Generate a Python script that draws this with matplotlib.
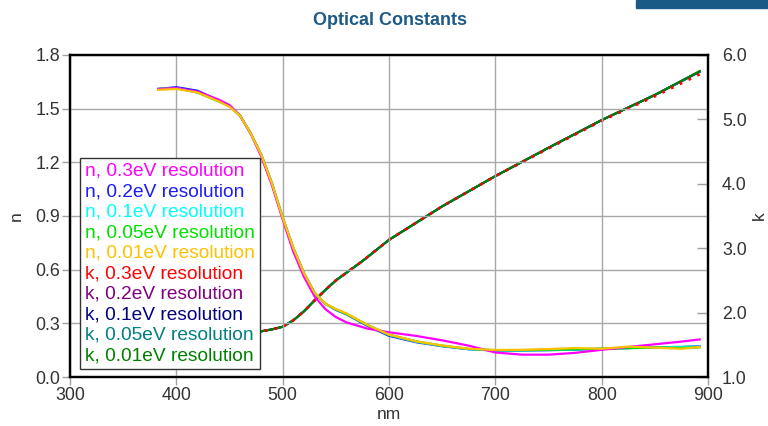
import matplotlib
matplotlib.use("Agg")
import matplotlib.pyplot as plt
from matplotlib.patches import Rectangle

plt.rcParams['font.family'] = ['Liberation Sans', 'DejaVu Sans']

# n curves (wavelength in nm)
wl_n = [383, 400, 420, 440, 450, 460, 470, 480, 490, 500, 510, 520, 530, 540, 550,
        560, 580, 600, 625, 650, 675, 700, 725, 750, 775, 800, 825, 850, 875, 892]
n_03 = [1.61, 1.615, 1.595, 1.55, 1.52, 1.46, 1.36, 1.23, 1.07, 0.88, 0.70, 0.56, 0.45, 0.38, 0.335,
        0.305, 0.27, 0.25, 0.23, 0.205, 0.175, 0.137, 0.125, 0.125, 0.135, 0.152, 0.168, 0.183, 0.198, 0.21]
n_02 = [1.61, 1.62, 1.60, 1.545, 1.515, 1.46, 1.36, 1.24, 1.08, 0.89, 0.72, 0.58, 0.47, 0.41, 0.375,
        0.35, 0.285, 0.23, 0.195, 0.172, 0.155, 0.148, 0.148, 0.150, 0.153, 0.157, 0.162, 0.166, 0.168, 0.172]
n_01 = [1.61, 1.615, 1.59, 1.54, 1.515, 1.46, 1.36, 1.24, 1.08, 0.89, 0.72, 0.58, 0.47, 0.41, 0.378,
        0.352, 0.29, 0.235, 0.198, 0.174, 0.156, 0.149, 0.149, 0.151, 0.154, 0.158, 0.162, 0.166, 0.168, 0.170]
n_005 = [1.61, 1.615, 1.59, 1.54, 1.515, 1.46, 1.36, 1.24, 1.08, 0.89, 0.72, 0.58, 0.47, 0.41, 0.378,
         0.352, 0.29, 0.236, 0.20, 0.175, 0.157, 0.150, 0.150, 0.152, 0.155, 0.159, 0.161, 0.165, 0.163, 0.166]
n_001 = [1.605, 1.61, 1.59, 1.54, 1.51, 1.46, 1.36, 1.24, 1.08, 0.89, 0.72, 0.58, 0.47, 0.41, 0.38,
         0.355, 0.29, 0.237, 0.20, 0.176, 0.158, 0.151, 0.152, 0.156, 0.162, 0.158, 0.170, 0.164, 0.158, 0.168]

# k curves
wl_k = [465, 480, 490, 500, 510, 520, 530, 540, 550, 575, 600, 650, 700, 750, 800, 850, 892]
k_03 = [1.69, 1.71, 1.74, 1.78, 1.88, 2.02, 2.19, 2.35, 2.50, 2.80, 3.13, 3.65, 4.12, 4.55, 4.98, 5.36, 5.70]
k_02 = [1.69, 1.71, 1.74, 1.78, 1.88, 2.02, 2.19, 2.35, 2.50, 2.80, 3.13, 3.65, 4.12, 4.56, 4.99, 5.38, 5.74]
k_01 = k_02
k_005 = k_02
k_001 = [1.69, 1.71, 1.74, 1.78, 1.88, 2.02, 2.19, 2.35, 2.50, 2.80, 3.13, 3.65, 4.12, 4.56, 4.99, 5.38, 5.75]

labels = ['n, 0.3eV resolution', 'n, 0.2eV resolution', 'n, 0.1eV resolution',
          'n, 0.05eV resolution', 'n, 0.01eV resolution',
          'k, 0.3eV resolution', 'k, 0.2eV resolution', 'k, 0.1eV resolution',
          'k, 0.05eV resolution', 'k, 0.01eV resolution']
colors = ['#ff00ff', '#1a1aff', '#00ffff', '#00e000', '#ffc000',
          '#ff0000', '#800080', '#000080', '#008080', '#008000']

fig = plt.figure(figsize=(7.68, 4.26), dpi=100)
ax = fig.add_axes([0.0911, 0.115, 0.831, 0.756])
ax2 = ax.twinx()

# k lines on the right axis
ax2.plot(wl_k, k_02, color=colors[6], lw=1.5)
ax2.plot(wl_k, k_01, color=colors[7], lw=1.5)
ax2.plot(wl_k, k_005, color=colors[8], lw=1.5)
ax2.plot(wl_k, k_001, color=colors[9], lw=1.5)
ax2.plot(wl_k, k_03, color=colors[5], lw=2, ls=(0, (1, 2.5)))

# n lines on left axis
for y, c in zip([n_02, n_01, n_005, n_03, n_001], [colors[1], colors[2], colors[3], colors[0], colors[4]]):
    ax.plot(wl_n, y, color=c, lw=1.6)

ax.set_zorder(ax2.get_zorder() + 1)
ax.patch.set_visible(False)

ax.set_xlim(300, 900)
ax.set_ylim(0, 1.8)
ax2.set_ylim(1.0, 6.0)
ax.set_xticks([300, 400, 500, 600, 700, 800, 900])
ax.set_yticks([0.0, 0.3, 0.6, 0.9, 1.2, 1.5, 1.8])
ax.set_yticklabels(['0.0', '0.3', '0.6', '0.9', '1.2', '1.5', '1.8'])
ax2.set_yticks([1, 2, 3, 4, 5, 6])
ax2.set_yticklabels(['1.0', '2.0', '3.0', '4.0', '5.0', '6.0'])

ax.grid(True, color='#a8a8a8', lw=1)
ax.tick_params(axis='both', labelsize=12.8, colors='#333333', length=6, width=1, pad=1)
ax.tick_params(axis='both', color='#a0a0a0')
ax2.tick_params(axis='y', direction='in', labelsize=12.8, colors='#333333', length=8, width=1, pad=10)
ax2.tick_params(axis='y', color='#a0a0a0')
for a in (ax, ax2):
    for s in a.spines.values():
        s.set_linewidth(1.6)
        s.set_color('black')

ax.set_xlabel('nm', fontsize=12.5, color='#333333', labelpad=2)
ax.set_ylabel('n', fontsize=12.5, color='#333333', labelpad=8)
ax2.set_ylabel('k', fontsize=12.5, color='#333333', rotation=90, labelpad=4)

# legend with coloured text only
handles = [plt.Line2D([], [], color=c) for c in colors]
leg = ax.legend(handles, labels, loc='lower left', bbox_to_anchor=(0.016, 0.025),
                handlelength=0, handletextpad=0, labelspacing=0.16, fontsize=13.8,
                frameon=True, fancybox=False, borderpad=0.25, borderaxespad=0)
leg.get_frame().set_edgecolor('#333333')
leg.get_frame().set_linewidth(1)
leg.get_frame().set_alpha(1)
for t, c in zip(leg.get_texts(), colors):
    t.set_color(c)
for l in leg.get_lines():
    l.set_visible(False)

fig.text(0.508, 0.953, 'Optical Constants', ha='center', va='center', fontsize=13,
         fontweight='bold', color='#1d5a87', family=['Liberation Sans Narrow', 'Liberation Sans'])
fig.patches.append(Rectangle((0.828, 0.981), 0.172, 0.019, transform=fig.transFigure,
                             color='#1a5a86', zorder=5))

fig.savefig('out.png', dpi=100)
